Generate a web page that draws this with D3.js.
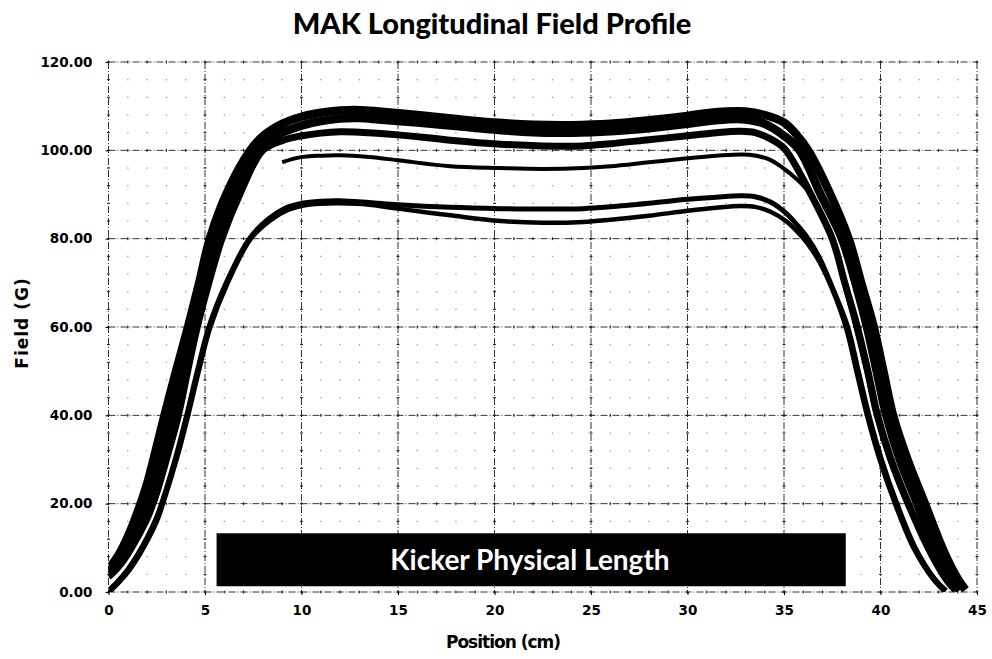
<!DOCTYPE html>
<html>
<head>
<meta charset="utf-8">
<script src="https://cdn.jsdelivr.net/npm/d3@7"></script>
<style>
  body { margin: 0; background: #fff; }
  .title { font-family: Lato, "Open Sans", sans-serif; font-weight: 900; font-size: 29px; }
  .tick text { font-family: "DejaVu Sans", sans-serif; font-weight: bold; font-size: 13.5px; }
  .aTitle { font-family: "DejaVu Sans", sans-serif; font-weight: bold; font-size: 17px; }
</style>
</head>
<body>
<div id="chart"></div>
<script>
// Chart text
var chartTitle = "MAK Longitudinal Field Profile";
var xTitle = "Position (cm)";
var yTitle = "Field (G)";
var barLabel = "Kicker Physical Length";

// tick labels
var xTicks = [0, 5, 10, 15, 20, 25, 30, 35, 40, 45];
var yTicks = [0, 20, 40, 60, 80, 100, 120];

// kicker physical length box [x0, x1, y0, y1]
var kickerBox = [5.6, 38.2, 1.3, 13.3];

// Field profiles, [position cm, field G]
var profileA = [[0,5.2],[0.5,8.2],[1,12.5],[1.5,18],[2,24.5],[2.5,33],[2.9,40],[3.5,50],[4.12,60],[4.7,70],[5.25,80],[6.2,91],[7.35,100],[8,103.2],[9,106],[10,107.6],[11,108.5],[12,109],[13,109.1],[14,108.8],[16,108],[18,107.1],[20,106.3],[22,105.8],[24,105.7],[26,106],[28,106.8],[30,107.8],[31,108.4],[32,108.8],[33,108.8],[34,108],[35,106.3],[35.6,103.8],[36.25,100],[37.3,91],[38.35,80],[39,70],[39.65,60],[40.15,50],[40.65,40],[41.4,30],[42.3,20],[43.3,9],[44,3],[44.4,0.5]];

var profileB = [[0,4.3],[0.5,6.8],[1,10.5],[1.5,15],[2,20.5],[2.5,27.5],[3.25,40],[3.8,50],[4.35,60],[4.9,70],[5.5,80],[6.4,90],[7.6,100],[8.3,102.5],[9,104],[10,105.6],[11,106.6],[12,107.2],[13,107.3],[14,107],[16,106.3],[18,105.5],[20,104.7],[22,104.1],[24,104],[26,104.3],[28,105],[30,106],[31,106.6],[32,107],[33,107],[34,106],[35,103.3],[35.8,100],[36.9,90],[38,80],[38.7,70],[39.3,60],[39.8,50],[40.3,40],[41,30],[41.9,20],[42.9,9],[43.7,2.5],[44.1,0.4]];

var profileC = [[0,3.4],[0.5,5.6],[1,8.6],[1.5,12.4],[2,16.6],[2.5,22.5],[3,30],[3.62,40],[4.1,50],[4.6,60],[5.2,70],[5.88,80],[6.8,90],[8,100],[9,102.2],[9.9,103.2],[11,103.9],[12,104.2],[13,104.1],[15,103.5],[17.7,102.3],[20.3,101.4],[22.5,101],[24.6,101],[26,101.5],[28,102.4],[30,103.3],[31.5,104],[32.75,104.3],[33.5,104],[34.3,102.6],[35,100.5],[35.8,95],[36.4,90],[37.5,80],[38.15,70],[38.8,60],[39.35,50],[39.85,40],[40.55,30],[41.45,20],[42.6,9],[43.5,2.5],[43.9,0.4]];

var profileD = [[9,97.3],[9.9,98.4],[11,98.8],[12,98.9],[13.5,98.5],[15.1,97.7],[17.7,96.4],[20.3,96],[22.5,95.8],[24.6,96],[26,96.4],[28,97.3],[30,98.2],[31.5,98.8],[33.2,99],[34.2,98],[34.95,96],[35.7,93.3],[36.3,90.4],[37.1,84],[37.5,80],[38.1,70],[38.7,60],[39.25,50],[39.75,40],[40.45,30],[41.35,20],[42.5,9],[43.4,2.3],[43.8,0.3]];

var profileE = [[0,0.3],[0.5,2.5],[1,5.1],[1.5,8.4],[2,12.3],[2.5,17],[2.75,20],[3.45,30],[4.05,40],[4.6,50],[5.2,60],[6.1,70],[7.3,80],[8.3,84.5],[9.2,87],[10,88],[11,88.5],[12,88.6],[13.5,88.2],[15,87.7],[17.7,87.1],[20.3,86.8],[22.5,86.7],[24.6,86.8],[26,87.2],[28,88],[30,88.9],[31.5,89.4],[32.75,89.7],[33.5,89.5],[34.3,88.3],[35.1,85.8],[35.7,83],[36.2,80.3],[36.8,76],[37.5,69],[38.3,60],[38.85,50],[39.4,40],[40.05,30],[40.85,20],[41.8,10],[42.8,3],[43.4,0.3]];

var profileF = [[0.08,0.1],[0.58,2.3],[1.08,4.9],[1.58,8.2],[2.08,12.1],[2.58,16.8],[2.83,20],[3.53,30],[4.13,40],[4.68,50],[5.28,60],[6.18,70],[7.38,80],[8.4,84.2],[9.3,86.5],[10.1,87.5],[11,87.9],[12,88],[13.5,87.7],[15,86.8],[17.7,85.3],[20.3,84],[22.5,83.6],[24.6,83.8],[26,84.3],[28,85.2],[30,86.3],[31.5,87],[32.75,87.4],[33.5,87.2],[34.3,86.1],[35.1,84],[35.7,81.5],[36.2,79],[36.8,75],[37.5,68.5],[38.2,60],[38.75,50],[39.3,40],[39.95,30],[40.75,20],[41.7,10],[42.7,3],[43.3,0.2]];

var profiles = [
  { data: profileA, w: 8.5 },
  { data: profileB, w: 8.5 },
  { data: profileC, w: 7 },
  { data: profileD, w: 4 },
  { data: profileE, w: 5 },
  { data: profileF, w: 4.5 }
];

var width = 992;
var height = 659;

var svg = d3.select("#chart")
  .append("svg")
  .attr("width", width)
  .attr("height", height);

// scales
var xScale = d3.scaleLinear().domain([0, 45]).range([108.5, 977]);
var yScale = d3.scaleLinear().domain([0, 120]).range([592, 62]);

// clip for the plot area
svg.append("clipPath").attr("id", "plotClip")
  .append("rect")
  .attr("x", xScale(0))
  .attr("y", yScale(120))
  .attr("width", xScale(45) - xScale(0))
  .attr("height", yScale(0) - yScale(120));

// minor grid dots (x every 1, y every 4)
var minorX = d3.range(0, 46, 1);
var minorY = d3.range(0, 121, 4);
var dots = svg.append("g").attr("class", "minorDots");
minorX.forEach(function(mx) {
  minorY.forEach(function(my) {
    dots.append("rect")
      .attr("x", xScale(mx) - 0.6)
      .attr("y", yScale(my) - 0.6)
      .attr("width", 1.3)
      .attr("height", 1.3)
      .attr("fill", "#999");
  });
});

// major gridlines
var grid = svg.append("g").attr("class", "grid");
grid.selectAll("line.vx")
  .data(xTicks)
  .enter()
  .append("line")
  .attr("x1", function(d) { return xScale(d); })
  .attr("x2", function(d) { return xScale(d); })
  .attr("y1", yScale(120))
  .attr("y2", yScale(0))
  .attr("stroke", "#333")
  .attr("stroke-width", 1)
  .attr("stroke-dasharray", "7,2,1,2");

grid.selectAll("line.hy")
  .data(yTicks)
  .enter()
  .append("line")
  .attr("x1", xScale(0))
  .attr("x2", xScale(45))
  .attr("y1", function(d) { return yScale(d); })
  .attr("y2", function(d) { return yScale(d); })
  .attr("stroke", "#333")
  .attr("stroke-width", 1)
  .attr("stroke-dasharray", "7,2,1,2");

// little cross marks along the major lines
xTicks.forEach(function(tx) {
  minorY.forEach(function(my) {
    grid.append("line")
      .attr("x1", xScale(tx) - 1.5).attr("x2", xScale(tx) + 1.5)
      .attr("y1", yScale(my)).attr("y2", yScale(my))
      .attr("stroke", "#222");
  });
});
yTicks.forEach(function(ty) {
  minorX.forEach(function(mx) {
    grid.append("line")
      .attr("x1", xScale(mx)).attr("x2", xScale(mx))
      .attr("y1", yScale(ty) - 1.5).attr("y2", yScale(ty) + 1.5)
      .attr("stroke", "#222");
  });
});

// axes (labels only, lines come from the grid)
var xAxis = d3.axisBottom(xScale).tickValues(xTicks).tickSize(3).tickFormat(d3.format("d"));
var yAxis = d3.axisLeft(yScale).tickValues(yTicks).tickSize(3).tickFormat(d3.format(".2f"));

var gx = svg.append("g")
  .attr("transform", "translate(0," + yScale(0) + ")")
  .call(xAxis);
gx.select(".domain").remove();
gx.selectAll("text").attr("dy", "1.25em").attr("fill", "#000");

var gy = svg.append("g")
  .attr("transform", "translate(" + xScale(0) + ",0)")
  .call(yAxis);
gy.select(".domain").remove();
gy.selectAll("text").attr("dx", "-10px").attr("fill", "#000");

// kicker box
svg.append("rect")
  .attr("x", xScale(kickerBox[0]))
  .attr("y", yScale(kickerBox[3]))
  .attr("width", xScale(kickerBox[1]) - xScale(kickerBox[0]))
  .attr("height", yScale(kickerBox[2]) - yScale(kickerBox[3]))
  .attr("fill", "#000");

svg.append("text")
  .attr("x", 530)
  .attr("y", (yScale(kickerBox[2]) + yScale(kickerBox[3])) / 2 + 10)
  .attr("text-anchor", "middle")
  .attr("fill", "#fff")
  .style("font-family", "Lato, sans-serif")
  .style("font-weight", "bold")
  .style("font-size", "28px")
  .text(barLabel);

// field profile lines
var line = d3.line()
  .x(function(d) { return xScale(d[0]); })
  .y(function(d) { return yScale(d[1]); })
  .curve(d3.curveCatmullRom.alpha(0.5));

svg.append("g")
  .attr("clip-path", "url(#plotClip)")
  .selectAll("path")
  .data(profiles)
  .enter()
  .append("path")
  .attr("d", function(d) { return line(d.data); })
  .attr("fill", "none")
  .attr("stroke", "#000")
  .attr("stroke-linejoin", "round")
  .attr("stroke-width", function(d) { return d.w; });

// titles
svg.append("text")
  .attr("class", "title")
  .attr("x", 492)
  .attr("y", 34)
  .attr("text-anchor", "middle")
  .text(chartTitle);

svg.append("text")
  .attr("class", "aTitle")
  .attr("x", 503)
  .attr("y", 648)
  .attr("text-anchor", "middle")
  .style("letter-spacing", "-1px")
  .text(xTitle);

svg.append("text")
  .attr("class", "aTitle")
  .attr("transform", "translate(28," + 323 + ")rotate(-90)")
  .attr("text-anchor", "middle")
  .style("letter-spacing", "1px")
  .text(yTitle);
</script>
</body>
</html>
